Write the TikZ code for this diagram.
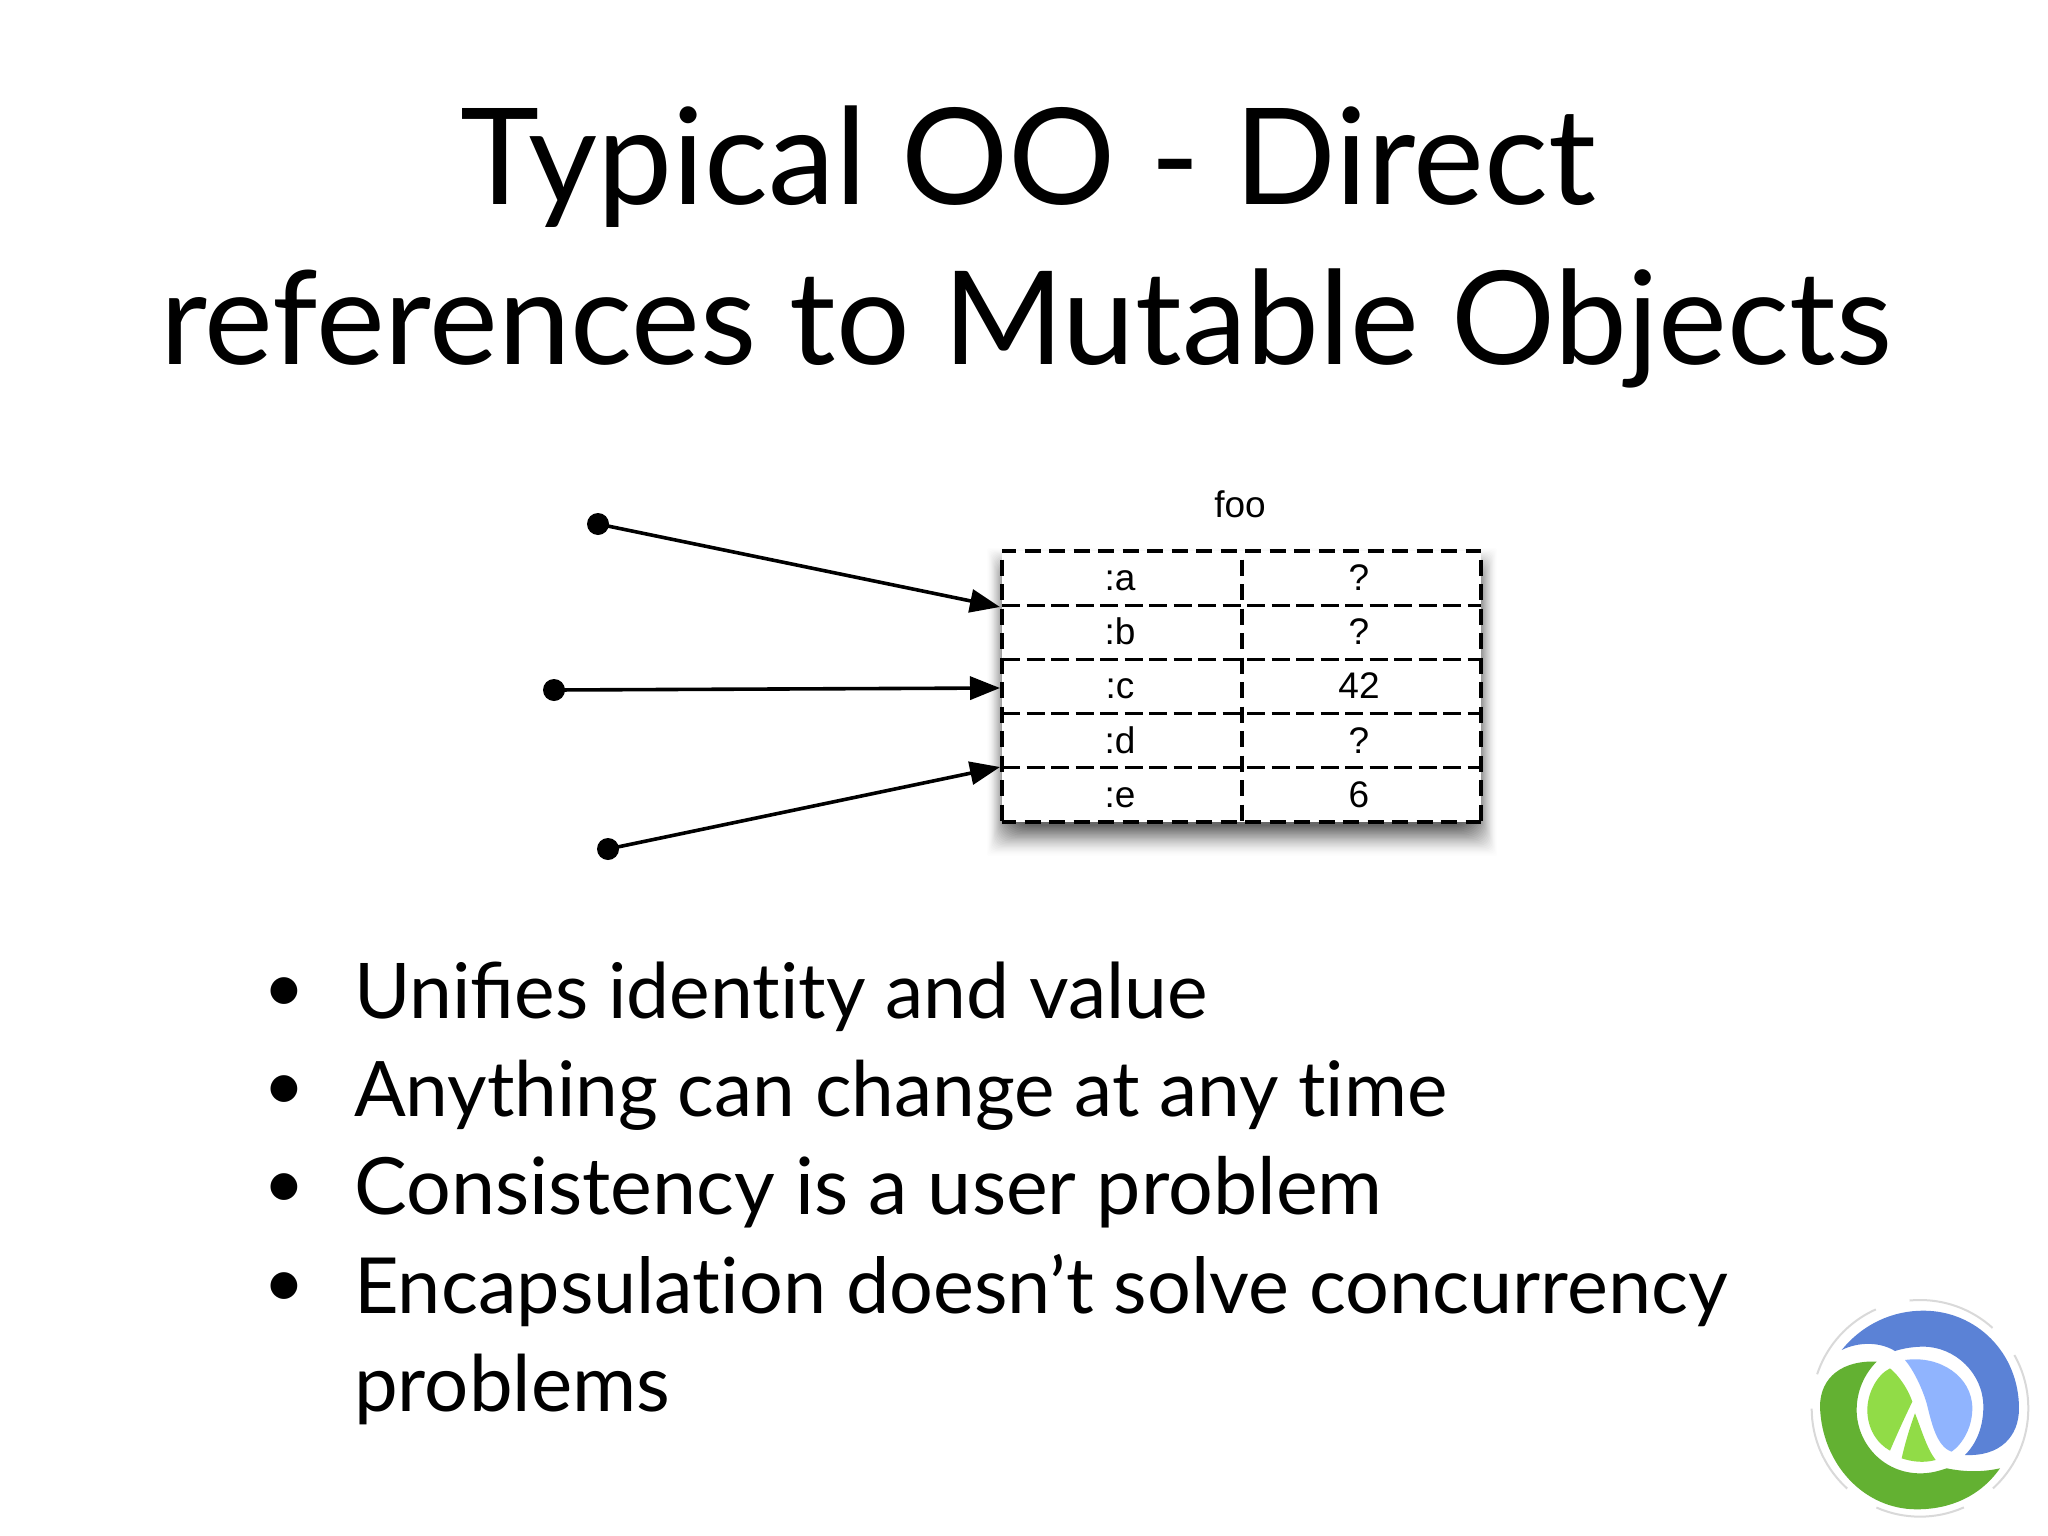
\documentclass[tikz,border=0pt]{standalone}
\usepackage{fontspec}
\setmainfont{Lato}[Ligatures=NoCommon]
\newfontfamily\helv{Liberation Sans}
\usetikzlibrary{arrows.meta}
\definecolor{logoblue}{HTML}{5B82D6}
\definecolor{logolblue}{HTML}{90B4FE}
\definecolor{logogreen}{HTML}{63B132}
\definecolor{logolgreen}{HTML}{91DC47}
\tikzset{
  titletext/.style={inner sep=0pt,anchor=base},
  bullettext/.style={inner sep=0pt,anchor=base west},
  bulletmark/.style={inner sep=0pt,anchor=base,font=\fontsize{72}{72}\selectfont},
  celltext/.style={inner sep=0pt,font=\helv\fontsize{37}{37}\selectfont,anchor=base},
  outerline/.style={line width=3.6pt,dash pattern=on 16pt off 8.5pt,black},
  innerline/.style={line width=2.8pt,dash pattern=on 18pt off 6.5pt,black},
  ptr/.style={line width=3.6pt,-{Triangle[length=30pt,width=23pt]},shorten <=-2pt},
  blackdot/.style={circle,fill=black,inner sep=0pt,minimum size=22pt},
}
\begin{document}
\begin{tikzpicture}[x=1pt,y=-1pt]
\useasboundingbox (0,0) rectangle (2048,1536);
\fill[white] (0,0) rectangle (2048,1536);
% title
\node[titletext,font=\fontsize{134}{134}\selectfont] (t1) at (1028,204) {Typical OO - Direct};
\node[titletext,font=\fontsize{130}{130}\selectfont] (t2) at (1026,364) {references to Mutable Objects};
% shadow
\foreach \i in {0,...,23}{
  \pgfmathsetmacro{\op}{0.006+\i*0.0025}
  \fill[black,opacity=\op,rounded corners=\i*1pt+2pt]
    ({1002-15+\i*.9},{551-3+\i}) rectangle ({1481+16-\i*.9},{822+34-\i*1.3});
}
\fill[white] (1002,551) rectangle (1481,822);
% table
\foreach \y in {605.2,659.4,713.6,767.8}{
  \draw[innerline,dash phase=0pt] (1002,\y) -- (1481,\y);
}
\foreach \y in {551,822}{
  \draw[outerline,dash phase=2pt] (1002,\y) -- (1481,\y);
}
\foreach \x in {1002,1242,1481}{
  \draw[outerline,dash phase=16pt] (\x,551) -- (\x,822);
}
\node[celltext] (foo) at (1240,517) {foo};
\foreach \n/\y/\a/\b in {a/590/:a/?,b/644/:b/?,c/698/:c/42,d/753/:d/?,e/807/:e/6}{
  \node[celltext] (k\n) at (1120,\y) {\a};
  \node[celltext] (v\n) at (1359,\y) {\b};
}
% pointers
\node[blackdot] (d1) at (598,524) {};
\node[blackdot] (d2) at (554,690) {};
\node[blackdot] (d3) at (608,849) {};
\coordinate (e1) at (1000,607);
\coordinate (e2) at (1000,688);
\coordinate (e3) at (1000,767);
\draw[ptr] (d1) -- (e1);
\draw[ptr] (d2) -- (e2);
\draw[ptr] (d3) -- (e3);
% bullets
\foreach \y/\s/\txt in {1018/76.8/Uni^^^^fb01es identity and value,1116/76.6/Anything can change at any time,1214/79/Consistency is a user problem,1313/77.4/Encapsulation doesn’t solve concurrency}{
  \node[bulletmark] (b\y) at (284,\y-6) {•};
  \node[bullettext,font=\fontsize{\s}{\s}\selectfont] (l\y) at (354,\y) {\txt};
}
\node[bullettext,font=\fontsize{78}{78}\selectfont] (l5) at (354,1411) {problems};
% logo
\begin{scope}[shift={(1780,1280)},x=0.3333pt,y=-0.3333pt]
  \draw[black!15,line width=2pt,dash pattern=on 90pt off 35pt] (420,385) circle (325);
  \fill[logoblue] (185,210) .. controls (250,130) and (340,92) .. (430,92)
    .. controls (590,92) and (717,220) .. (717,385)
    .. controls (717,470) and (660,530) .. (555,525)
    .. controls (590,490) and (610,440) .. (610,380)
    .. controls (610,280) and (525,200) .. (430,200)
    .. controls (400,200) and (370,205) .. (345,213)
    .. controls (300,185) and (235,185) .. (185,210) -- cycle;
  \fill[logogreen] (290,245) .. controls (190,240) and (120,290) .. (120,380)
    .. controls (125,550) and (250,688) .. (410,688)
    .. controls (510,688) and (600,650) .. (660,565)
    .. controls (600,578) and (550,575) .. (500,565)
    .. controls (470,575) and (450,580) .. (420,580)
    .. controls (310,580) and (230,490) .. (230,390)
    .. controls (230,330) and (255,280) .. (290,245) -- cycle;
  \fill[logolgreen] (330,265) .. controls (360,290) and (385,330) .. (397,365)
    .. controls (375,410) and (350,465) .. (330,512)
    .. controls (290,490) and (262,445) .. (262,390)
    .. controls (262,340) and (290,285) .. (330,265) -- cycle;
  \fill[logolgreen] (405,400) .. controls (425,450) and (440,505) .. (467,540)
    .. controls (430,550) and (395,545) .. (365,535)
    .. controls (375,490) and (390,440) .. (405,400) -- cycle;
  \fill[logolblue] (375,240) .. controls (480,225) and (577,290) .. (577,385)
    .. controls (577,440) and (550,490) .. (515,515)
    .. controls (470,500) and (455,430) .. (440,370)
    .. controls (425,320) and (400,270) .. (375,240) -- cycle;
\end{scope}
\end{tikzpicture}
\end{document}
